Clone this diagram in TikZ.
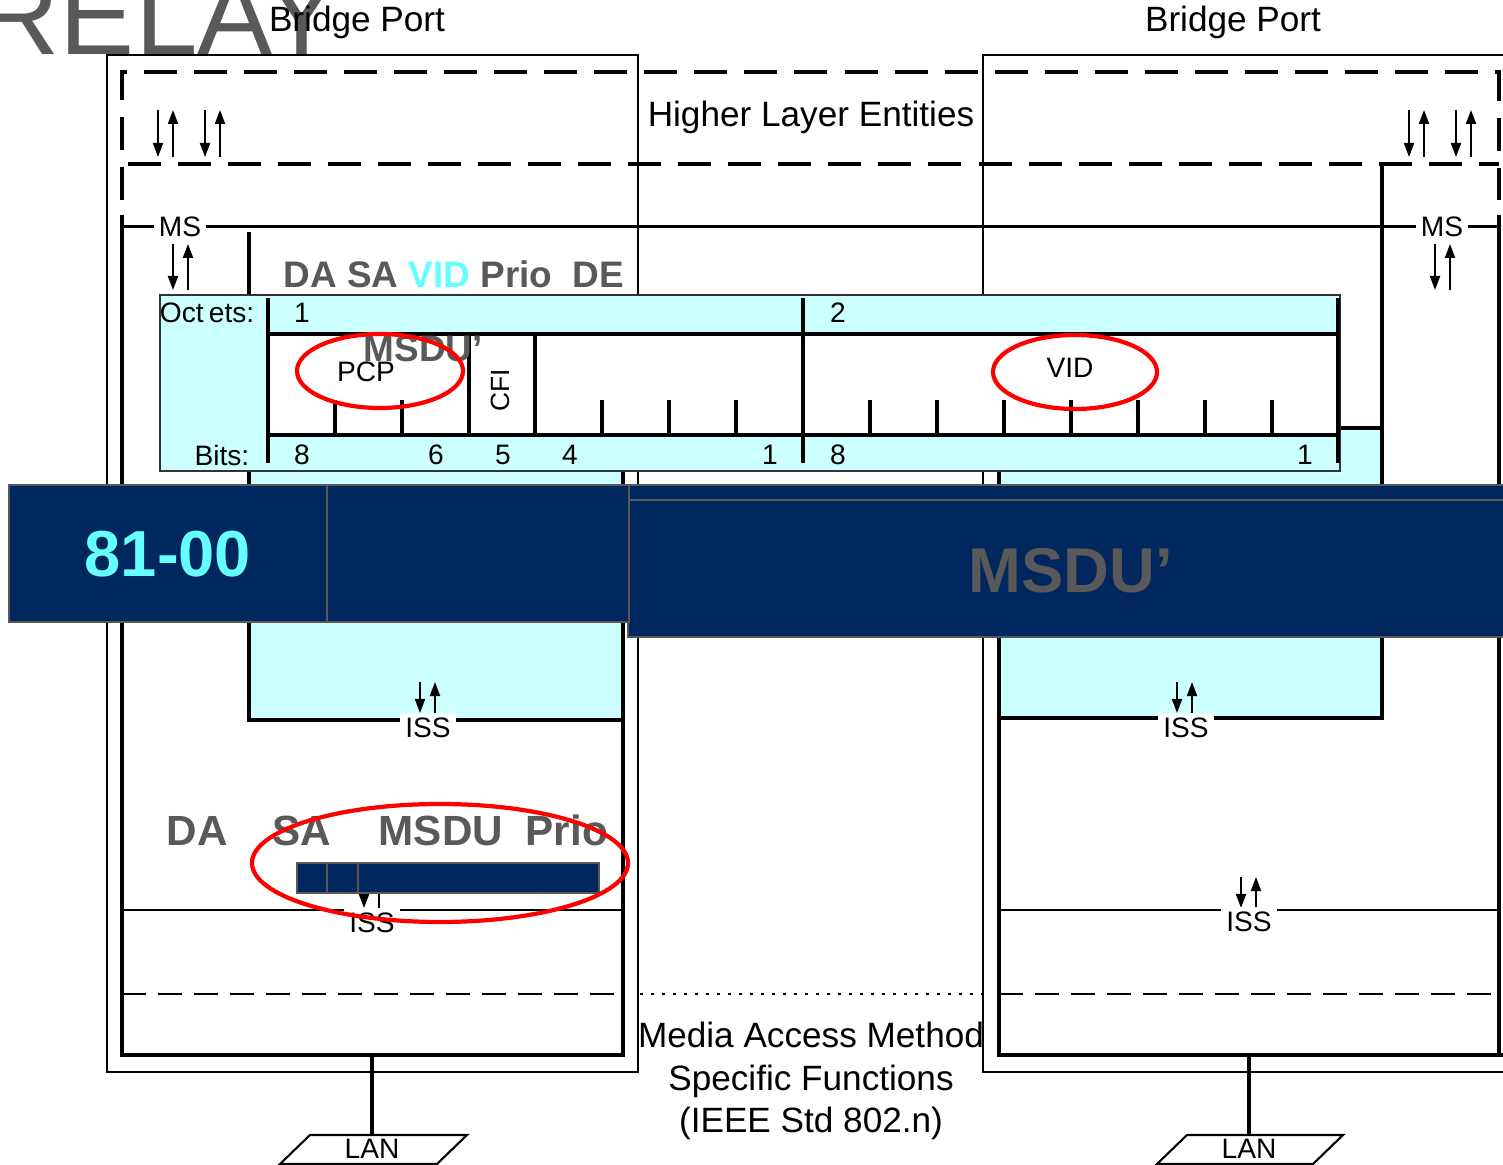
\documentclass[tikz,border=0pt]{standalone}
\usepackage{fontspec}
\setmainfont{Liberation Sans}
\usetikzlibrary{arrows.meta, positioning, calc}
\definecolor{tagcyan}{HTML}{CCFFFF}
\definecolor{slidenavy}{RGB}{0,40,94}
\definecolor{slidegray}{HTML}{595959}
\definecolor{vidcyan}{HTML}{66FFFF}
\tikzset{
    port box/.style={draw, line width=0.6pt},
    layer box/.style={line width=1.1pt},
    hle line/.style={line width=1.1pt, dash pattern=on 3.3mm off 1.7mm},
    mac line/.style={line width=0.6pt, dash pattern=on 2.4mm off 1.2mm},
    sap label/.style={fill=white, inner sep=1.5pt, font=\fontsize{8}{9.6}\selectfont},
    field label/.style={inner sep=0pt, font=\fontsize{8}{9.6}\selectfont},
    plain label/.style={inner sep=0pt, font=\fontsize{10}{12}\selectfont},
    frame word/.style={inner sep=0pt, text=slidegray, font=\bfseries\fontsize{12}{14}\selectfont},
    navy bar/.style={draw=slidegray, fill=slidenavy, line width=0.5pt},
    ring/.style={draw=red, line width=1.2pt},
    sap arrow/.style={-{Triangle[length=1.4mm, width=1mm]}, line width=0.55pt},
    lan link/.style={line width=0.9pt},
    lan box/.style={draw, line width=0.6pt}
}
\newcommand{\sapArrows}[3]{%
  \draw[sap arrow] (#1,#2) -- (#1,#3);
  \draw[sap arrow] ({#1+15},#3) -- ({#1+15},#2);}

\begin{document}
\begin{tikzpicture}[x=0.01cm, y=-0.01cm]
% Two bridge ports, tag format and slide overlays
  \useasboundingbox (0,0) rectangle (1503,1165);
  \node[anchor=base west, inner sep=0pt, text=slidegray, font=\fontsize{32}{38}\selectfont] (relay) at (-22,55) {RELAY};

  \draw[port box] (107,55) rectangle (638,1072);
  \draw[port box] (983,55) rectangle (1520,1072);
  \node[plain label] (portL) at (357,22) {Bridge Port};
  \node[plain label] (portR) at (1233,22) {Bridge Port};

  \draw[hle line] (122,200) -- (122,72) -- (1499,72) -- (1499,200);
  \draw[hle line] (128,164) -- (1499,164);
  \node[plain label] (hle) at (811,117) {Higher Layer Entities};
  \sapArrows{158}{110}{157}
  \sapArrows{205}{110}{157}
  \sapArrows{1409}{110}{157}
  \sapArrows{1456}{110}{157}

  \draw[line width=0.85pt] (122,227) -- (1499,227);
  \node[sap label] (msL) at (180,227) {MS};
  \node[sap label] (msR) at (1442,227) {MS};
  \sapArrows{173}{244}{290}
  \sapArrows{1435}{244}{290}

  \fill[tagcyan] (249,430) rectangle (623,720);
  \draw[layer box] (122,215) -- (122,1055) -- (623,1055) -- (623,430);
  \draw[layer box] (249,232) -- (249,720) -- (623,720);
  \fill[tagcyan] (999,428) rectangle (1382,718);
  \draw[layer box] (1382,165) -- (1382,718) -- (999,718);
  \draw[layer box] (999,428) -- (1382,428);
  \draw[layer box] (999,428) -- (999,1055) -- (1520,1055);
  \draw[layer box] (1499,215) -- (1499,1055);

  \draw[line width=0.6pt] (122,910) -- (623,910);
  \draw[line width=0.6pt] (999,910) -- (1499,910);
  \draw[mac line] (122,994) -- (623,994);
  \draw[mac line] (999,994) -- (1499,994);
  \draw[line width=0.4pt, dash pattern=on 0.3mm off 0.8mm] (640,994) -- (983,994);

  \sapArrows{420}{682}{713}
  \sapArrows{1177}{682}{713}
  \sapArrows{364}{877}{908}
  \sapArrows{1241}{877}{908}
  \node[sap label] (issL) at (428,728) {ISS};
  \node[sap label] (issR) at (1186,728) {ISS};
  \node[sap label] (lissL) at (372,923) {ISS};
  \node[sap label] (lissR) at (1249,922) {ISS};

  \node[plain label, align=center, font=\fontsize{10}{12}\selectfont] (macfn) at (811,1081)
    {Media Access Method\\Specific Functions\\(IEEE Std 802.n)};

  \draw[lan box] (310,1135) -- (467,1135) -- (437,1164) -- (280,1164) -- cycle;
  \draw[lan box] (1187,1135) -- (1343,1135) -- (1313,1164) -- (1157,1164) -- cycle;
  \node[field label] (lanL) at (372,1149) {LAN};
  \node[field label] (lanR) at (1249,1149) {LAN};
  \coordinate (dropL) at (372,1055);
  \coordinate (dropR) at (1249,1055);
  \coordinate (tapL) at (372,1135);
  \coordinate (tapR) at (1249,1135);
  \draw[lan link] (dropL) -- (tapL);
  \draw[lan link] (dropR) -- (tapR);

  % tag control information
  \filldraw[fill=tagcyan, draw=black!80, line width=0.5pt] (160,295) rectangle (1340,471);
  \fill[white] (268,334) rectangle (1338,435);
  \draw[line width=0.9pt] (268,334) -- (1338,334);
  \draw[line width=0.9pt] (268,435) -- (1338,435);
  \foreach \x in {268,803,1338}
    \draw[line width=0.9pt] (\x,298) -- (\x,463);
  \foreach \x in {469,535}
    \draw[line width=0.9pt] (\x,334) -- (\x,435);
  \foreach \x in {335,402,602,669,736,870,937,1004,1071,1138,1205,1272}
    \draw[line width=0.9pt] (\x,400) -- (\x,435);
  \node[field label, anchor=east] (octets) at (255,313) {Oct\kern1.5pt ets:};
  \node[field label, anchor=east] (bits) at (250,455) {Bits:};
  \node[field label] (oct1) at (302,313) {1};
  \node[field label] (oct2) at (838,313) {2};
  \node[field label] (b8) at (302,455) {8};
  \node[field label] (b6) at (436,455) {6};
  \node[field label] (b5) at (503,455) {5};
  \node[field label] (b4) at (570,455) {4};
  \node[field label] (b1) at (770,455) {1};
  \node[field label] (c8) at (838,455) {8};
  \node[field label] (c1) at (1305,455) {1};
  \node[field label] (pcp) at (366,372) {PCP};
  \node[field label, rotate=90, font=\fontsize{7.5}{9}\selectfont] (cfi) at (500,390) {CFI};
  \node[field label] (vid) at (1070,368) {VID};

  \node[frame word, anchor=base west, font=\bfseries\fontsize{10.5}{12}\selectfont] (tagwords) at (283,288)
    {DA SA \textcolor{vidcyan}{VID} Prio\ \ DE};

  \draw[navy bar] (628,485) rectangle (1520,500);
  \draw[navy bar] (628,500) rectangle (1520,637);
  \draw[navy bar] (9,485) rectangle (629,622);
  \draw[slidegray, line width=0.5pt] (327,485) -- (327,622);
  \node[inner sep=0pt, text=vidcyan, font=\bfseries\fontsize{18.5}{22}\selectfont] (stamp) at (168,554) {81-00};
  \node[frame word, anchor=base west, font=\bfseries\fontsize{18}{22}\selectfont] (bigmsdu) at (968,593) {MSDU’};
  \node[frame word, anchor=base west, font=\bfseries\fontsize{10.5}{12}\selectfont] (smallmsdu) at (363,362) {MSDU’};

  \node[frame word, anchor=base west] (wDA) at (166,846) {DA};
  \node[frame word, anchor=base west] (wSA) at (272,846) {SA};
  \node[frame word, anchor=base west] (wMSDU) at (378,846) {MSDU};
  \node[frame word, anchor=base west] (wPrio) at (525,846) {Prio};
  \draw[navy bar] (297,863) rectangle (599,893);
  \draw[slidegray, line width=0.5pt] (327,863) -- (327,893);
  \draw[slidegray, line width=0.5pt] (358,863) -- (358,893);

  \draw[ring] (380,371) ellipse [x radius=83, y radius=37];
  \draw[ring] (1075,372) ellipse [x radius=82, y radius=37];
  \draw[ring] (440,863) ellipse [x radius=188, y radius=59];
\end{tikzpicture}
\end{document}
